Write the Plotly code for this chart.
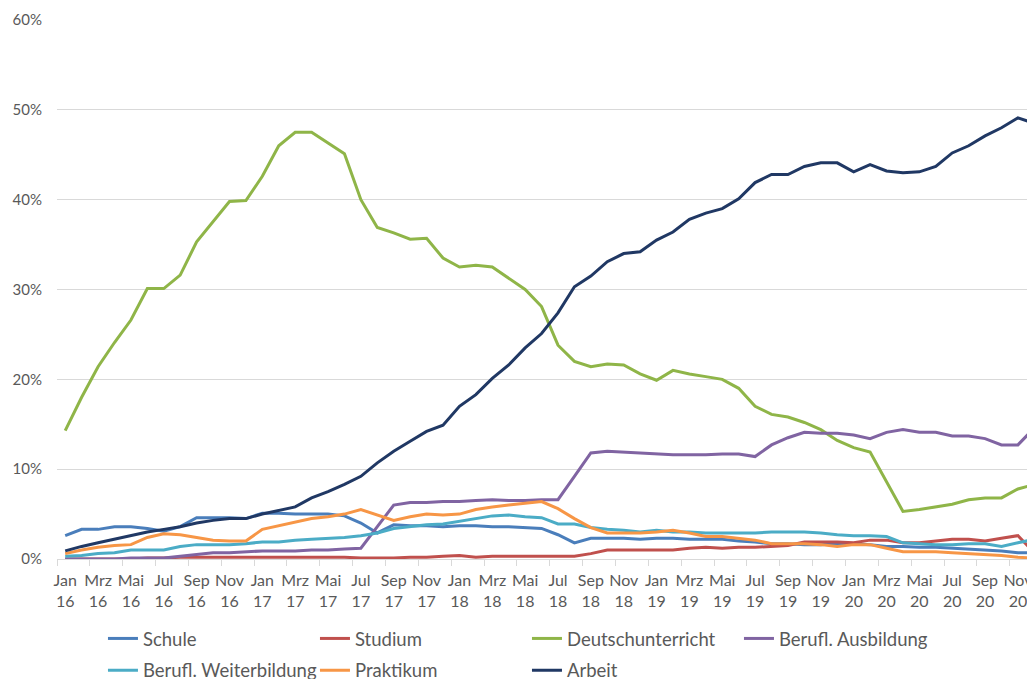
import plotly.graph_objects as go

month_names = ["Jan", "Feb", "Mrz", "Apr", "Mai", "Jun", "Jul", "Aug", "Sep", "Okt", "Nov", "Dez"]
years = ["16", "17", "18", "19", "20"]
months = [f"{m} {y}" for y in years for m in month_names]  # Jan 16 .. Dez 20 (60)
x_idx = list(range(len(months)))

tick_idx = list(range(0, 60, 2))
tick_text = [months[i].replace(" ", "<br>") for i in tick_idx]

y_ticks = [0, 10, 20, 30, 40, 50, 60]
y_tick_text = [f"{v}%" for v in y_ticks]

schule = [2.6, 3.3, 3.3, 3.6, 3.6, 3.4, 3.1, 3.6, 4.6, 4.6, 4.6, 4.5,
          5.1, 5.1, 5.0, 5.0, 5.0, 4.8, 4.0, 2.9, 3.8, 3.7, 3.7, 3.6,
          3.7, 3.7, 3.6, 3.6, 3.5, 3.4, 2.7, 1.8, 2.3, 2.3, 2.3, 2.2,
          2.3, 2.3, 2.2, 2.2, 2.2, 2.0, 1.9, 1.7, 1.7, 1.6, 1.6, 1.7,
          1.7, 1.6, 1.4, 1.4, 1.3, 1.3, 1.2, 1.1, 1.0, 0.9, 0.7, 0.7]
studium = [0.0, 0.0, 0.0, 0.0, 0.0, 0.1, 0.1, 0.2, 0.2, 0.2, 0.2, 0.2,
           0.2, 0.2, 0.2, 0.2, 0.2, 0.2, 0.1, 0.1, 0.1, 0.2, 0.2, 0.3,
           0.4, 0.2, 0.3, 0.3, 0.3, 0.3, 0.3, 0.3, 0.6, 1.0, 1.0, 1.0,
           1.0, 1.0, 1.2, 1.3, 1.2, 1.3, 1.3, 1.4, 1.5, 1.9, 1.9, 1.9,
           1.8, 2.1, 2.1, 1.8, 1.8, 2.0, 2.2, 2.2, 2.0, 2.3, 2.6, 0.7]
deutsch = [14.3, 18.0, 21.4, 24.1, 26.6, 30.1, 30.1, 31.6, 35.3, 37.6, 39.8, 39.9,
           42.6, 46.0, 47.5, 47.5, 46.3, 45.1, 40.0, 36.9, 36.3, 35.6, 35.7, 33.5,
           32.5, 32.7, 32.5, 31.3, 30.0, 28.1, 23.8, 22.0, 21.4, 21.7, 21.6, 20.6,
           19.9, 21.0, 20.6, 20.3, 20.0, 19.0, 17.0, 16.1, 15.8, 15.2, 14.4, 13.2,
           12.4, 11.9, 8.6, 5.3, 5.5, 5.8, 6.1, 6.6, 6.8, 6.8, 7.8, 8.3]
ausbildung = [0.0, 0.0, 0.0, 0.0, 0.1, 0.1, 0.1, 0.3, 0.5, 0.7, 0.7, 0.8,
              0.9, 0.9, 0.9, 1.0, 1.0, 1.1, 1.2, 3.6, 6.0, 6.3, 6.3, 6.4,
              6.4, 6.5, 6.6, 6.5, 6.5, 6.6, 6.6, 9.2, 11.8, 12.0, 11.9, 11.8,
              11.7, 11.6, 11.6, 11.6, 11.7, 11.7, 11.4, 12.7, 13.5, 14.1, 14.0, 14.0,
              13.8, 13.4, 14.1, 14.4, 14.1, 14.1, 13.7, 13.7, 13.4, 12.7, 12.7, 14.6]
weiterbildung = [0.3, 0.4, 0.6, 0.7, 1.0, 1.0, 1.0, 1.4, 1.6, 1.6, 1.6, 1.7,
                 1.9, 1.9, 2.1, 2.2, 2.3, 2.4, 2.6, 2.9, 3.4, 3.6, 3.8, 3.9,
                 4.2, 4.5, 4.8, 4.9, 4.7, 4.6, 3.9, 3.9, 3.5, 3.3, 3.2, 3.0,
                 3.2, 3.0, 3.0, 2.9, 2.9, 2.9, 2.9, 3.0, 3.0, 3.0, 2.9, 2.7,
                 2.6, 2.6, 2.5, 1.8, 1.7, 1.6, 1.6, 1.7, 1.7, 1.4, 1.8, 2.2]
praktikum = [0.6, 1.0, 1.3, 1.5, 1.6, 2.4, 2.8, 2.7, 2.4, 2.1, 2.0, 2.0,
             3.3, 3.7, 4.1, 4.5, 4.7, 5.0, 5.5, 4.9, 4.3, 4.7, 5.0, 4.9,
             5.0, 5.5, 5.8, 6.0, 6.2, 6.4, 5.6, 4.5, 3.5, 2.9, 2.9, 2.9,
             3.0, 3.2, 2.9, 2.5, 2.5, 2.3, 2.1, 1.7, 1.7, 1.7, 1.6, 1.4,
             1.6, 1.6, 1.2, 0.8, 0.8, 0.8, 0.7, 0.6, 0.5, 0.4, 0.2, 0.1]
arbeit = [0.9, 1.4, 1.8, 2.2, 2.6, 3.0, 3.3, 3.6, 4.0, 4.3, 4.5, 4.5,
          5.0, 5.4, 5.8, 6.8, 7.5, 8.3, 9.2, 10.7, 12.0, 13.1, 14.2, 14.9,
          17.0, 18.3, 20.1, 21.6, 23.5, 25.1, 27.4, 30.3, 31.5, 33.1, 34.0, 34.2,
          35.5, 36.4, 37.8, 38.5, 39.0, 40.1, 41.9, 42.8, 42.8, 43.7, 44.1, 44.1,
          43.1, 43.9, 43.2, 43.0, 43.1, 43.7, 45.2, 46.0, 47.1, 48.0, 49.1, 48.5]

series = [
    ("Schule", schule, "#4A7EBB", "legend"),
    ("Studium", studium, "#C0504D", "legend"),
    ("Deutschunterricht", deutsch, "#8FB548", "legend"),
    ("Berufl. Ausbildung", ausbildung, "#8064A2", "legend"),
    ("Berufl. Weiterbildung", weiterbildung, "#4BACC6", "legend2"),
    ("Praktikum", praktikum, "#F79646", "legend2"),
    ("Arbeit", arbeit, "#203864", "legend2"),
]

FONT = "Lato, 'Open Sans', sans-serif"
GREY = "#595959"

fig = go.Figure()
for name, vals, color, leg in series:
    fig.add_trace(go.Scatter(
        x=x_idx, y=vals, name=name, mode="lines",
        line=dict(color=color, width=3),
        legend=leg,
    ))

legend_common = dict(
    orientation="h", xanchor="left", yanchor="top",
    entrywidth=167, entrywidthmode="pixels",
    font=dict(family=FONT, size=18.5, color=GREY),
    bgcolor="rgba(0,0,0,0)", borderwidth=0, traceorder="normal",
)

# the page body adds an 8px offset; the figure is sized to fill the rest of the window
fig.update_layout(
    width=1027, height=671,
    margin=dict(l=49, r=0, t=12, b=120, autoexpand=False),
    paper_bgcolor="white", plot_bgcolor="white",
    font=dict(family=FONT, color=GREY),
    showlegend=True,
    legend=dict(x=0.047, y=-0.113, **legend_common),
    legend2=dict(x=0.047, y=-0.172, **legend_common),
    xaxis=dict(
        range=[-0.5, 59.04],
        tickmode="array", tickvals=tick_idx, ticktext=tick_text,
        tickfont=dict(family=FONT, size=16, color=GREY),
        ticks="", showgrid=False, zeroline=False,
        showline=True, linecolor="#D9D9D9", linewidth=1,
        ticklabelstandoff=7,
        minor=dict(tickmode="linear", tick0=-0.5, dtick=2, ticks="outside",
                   ticklen=6, tickcolor="#D9D9D9", showgrid=False),
    ),
    yaxis=dict(
        range=[0, 60],
        tickmode="array", tickvals=y_ticks, ticktext=y_tick_text,
        tickfont=dict(family=FONT, size=15, color=GREY),
        showgrid=True, gridcolor="#D9D9D9", gridwidth=1,
        zeroline=False, showline=False, ticks="",
        ticklabelstandoff=14,
    ),
)

fig.write_html("out.html")
